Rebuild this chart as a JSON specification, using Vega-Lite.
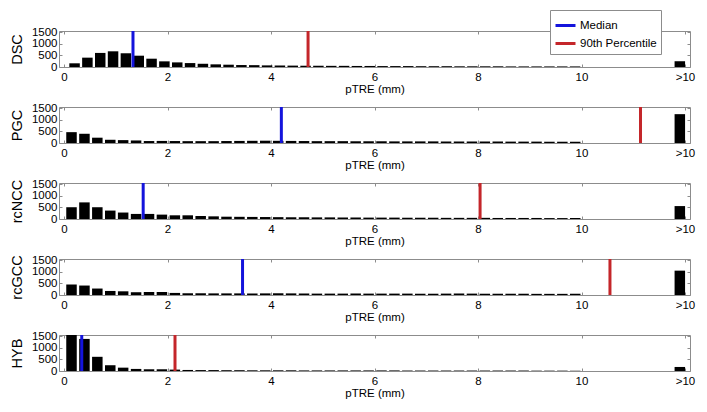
{
"$schema": "https://vega.github.io/schema/vega-lite/v6.json",
"padding": {"left": 8, "top": 9, "right": 5, "bottom": 5},
"bounds": "flush",
"spacing": 40,
"config": {
  "font": "Liberation Sans",
  "view": {"stroke": "#8c8c8c", "strokeWidth": 1},
  "axis": {"labelFontSize": 11.5, "labelColor": "#000", "tickColor": "#8c8c8c", "tickSize": -3, "domain": false, "grid": false, "titleFontWeight": "normal", "titleColor": "#000", "labelFont": "Liberation Sans", "titleFont": "Liberation Sans", "labelFlush": false},
  "axisX": {"titleFontSize": 11.5, "labelPadding": 7, "titlePadding": 1},
  "axisY": {"titleFontSize": 14.5, "labelPadding": 5, "titlePadding": 7, "labelOverlap": false, "format": "d"}
},
"resolve": {"scale": {"color": "independent"}, "legend": {"color": "independent"}},
"datasets": {
  "stats": [
    {"panel": "DSC", "stat": "Median", "value": 1.333},
    {"panel": "DSC", "stat": "90th Percentile", "value": 4.716},
    {"panel": "PGC", "stat": "Median", "value": 4.2},
    {"panel": "PGC", "stat": "90th Percentile", "value": 11.14},
    {"panel": "rcNCC", "stat": "Median", "value": 1.53},
    {"panel": "rcNCC", "stat": "90th Percentile", "value": 8.04},
    {"panel": "rcGCC", "stat": "Median", "value": 3.45},
    {"panel": "rcGCC", "stat": "90th Percentile", "value": 10.55},
    {"panel": "HYB", "stat": "Median", "value": 0.343},
    {"panel": "HYB", "stat": "90th Percentile", "value": 2.145}
  ],
  "bars": [
    {"panel":"DSC","x":0.204,"n":160},{"panel":"DSC","x":0.452,"n":405},{"panel":"DSC","x":0.700,"n":610},{"panel":"DSC","x":0.948,"n":680},{"panel":"DSC","x":1.196,"n":595},{"panel":"DSC","x":1.444,"n":490},{"panel":"DSC","x":1.692,"n":360},{"panel":"DSC","x":1.940,"n":245},{"panel":"DSC","x":2.188,"n":200},{"panel":"DSC","x":2.436,"n":170},
    {"panel":"DSC","x":2.684,"n":140},{"panel":"DSC","x":2.932,"n":115},{"panel":"DSC","x":3.180,"n":100},{"panel":"DSC","x":3.428,"n":85},{"panel":"DSC","x":3.676,"n":80},{"panel":"DSC","x":3.924,"n":70},{"panel":"DSC","x":4.172,"n":65},{"panel":"DSC","x":4.420,"n":60},{"panel":"DSC","x":4.668,"n":55},{"panel":"DSC","x":4.916,"n":55},
    {"panel":"DSC","x":5.164,"n":50},{"panel":"DSC","x":5.412,"n":50},{"panel":"DSC","x":5.660,"n":45},{"panel":"DSC","x":5.908,"n":45},{"panel":"DSC","x":6.156,"n":40},{"panel":"DSC","x":6.404,"n":40},{"panel":"DSC","x":6.652,"n":40},{"panel":"DSC","x":6.900,"n":35},{"panel":"DSC","x":7.148,"n":35},{"panel":"DSC","x":7.396,"n":35},
    {"panel":"DSC","x":7.644,"n":30},{"panel":"DSC","x":7.892,"n":30},{"panel":"DSC","x":8.140,"n":30},{"panel":"DSC","x":8.388,"n":30},{"panel":"DSC","x":8.636,"n":25},{"panel":"DSC","x":8.884,"n":25},{"panel":"DSC","x":9.132,"n":25},{"panel":"DSC","x":9.380,"n":25},{"panel":"DSC","x":9.628,"n":25},{"panel":"DSC","x":9.876,"n":25},
    {"panel":"DSC","x":11.9,"n":250},

    {"panel":"PGC","x":0.145,"n":470},{"panel":"PGC","x":0.395,"n":400},{"panel":"PGC","x":0.644,"n":230},{"panel":"PGC","x":0.894,"n":140},{"panel":"PGC","x":1.143,"n":125},{"panel":"PGC","x":1.393,"n":110},{"panel":"PGC","x":1.643,"n":85},{"panel":"PGC","x":1.892,"n":90},{"panel":"PGC","x":2.142,"n":85},{"panel":"PGC","x":2.391,"n":80},
    {"panel":"PGC","x":2.641,"n":80},{"panel":"PGC","x":2.891,"n":80},{"panel":"PGC","x":3.140,"n":85},{"panel":"PGC","x":3.390,"n":90},{"panel":"PGC","x":3.639,"n":95},{"panel":"PGC","x":3.889,"n":100},{"panel":"PGC","x":4.139,"n":95},{"panel":"PGC","x":4.388,"n":90},{"panel":"PGC","x":4.638,"n":85},{"panel":"PGC","x":4.887,"n":80},
    {"panel":"PGC","x":5.137,"n":80},{"panel":"PGC","x":5.387,"n":80},{"panel":"PGC","x":5.636,"n":75},{"panel":"PGC","x":5.886,"n":75},{"panel":"PGC","x":6.135,"n":75},{"panel":"PGC","x":6.385,"n":70},{"panel":"PGC","x":6.635,"n":70},{"panel":"PGC","x":6.884,"n":70},{"panel":"PGC","x":7.134,"n":70},{"panel":"PGC","x":7.383,"n":65},
    {"panel":"PGC","x":7.633,"n":65},{"panel":"PGC","x":7.883,"n":65},{"panel":"PGC","x":8.132,"n":65},{"panel":"PGC","x":8.382,"n":65},{"panel":"PGC","x":8.631,"n":60},{"panel":"PGC","x":8.881,"n":60},{"panel":"PGC","x":9.131,"n":60},{"panel":"PGC","x":9.380,"n":55},{"panel":"PGC","x":9.630,"n":55},{"panel":"PGC","x":9.879,"n":50},
    {"panel":"PGC","x":11.9,"n":1250},

    {"panel":"rcNCC","x":0.145,"n":510},{"panel":"rcNCC","x":0.395,"n":720},{"panel":"rcNCC","x":0.644,"n":510},{"panel":"rcNCC","x":0.894,"n":365},{"panel":"rcNCC","x":1.143,"n":280},{"panel":"rcNCC","x":1.393,"n":220},{"panel":"rcNCC","x":1.643,"n":220},{"panel":"rcNCC","x":1.892,"n":190},{"panel":"rcNCC","x":2.142,"n":160},{"panel":"rcNCC","x":2.391,"n":160},
    {"panel":"rcNCC","x":2.641,"n":130},{"panel":"rcNCC","x":2.891,"n":115},{"panel":"rcNCC","x":3.140,"n":100},{"panel":"rcNCC","x":3.390,"n":95},{"panel":"rcNCC","x":3.639,"n":90},{"panel":"rcNCC","x":3.889,"n":85},{"panel":"rcNCC","x":4.139,"n":80},{"panel":"rcNCC","x":4.388,"n":75},{"panel":"rcNCC","x":4.638,"n":75},{"panel":"rcNCC","x":4.887,"n":70},
    {"panel":"rcNCC","x":5.137,"n":70},{"panel":"rcNCC","x":5.387,"n":65},{"panel":"rcNCC","x":5.636,"n":65},{"panel":"rcNCC","x":5.886,"n":60},{"panel":"rcNCC","x":6.135,"n":60},{"panel":"rcNCC","x":6.385,"n":60},{"panel":"rcNCC","x":6.635,"n":55},{"panel":"rcNCC","x":6.884,"n":55},{"panel":"rcNCC","x":7.134,"n":55},{"panel":"rcNCC","x":7.383,"n":50},
    {"panel":"rcNCC","x":7.633,"n":50},{"panel":"rcNCC","x":7.883,"n":50},{"panel":"rcNCC","x":8.132,"n":50},{"panel":"rcNCC","x":8.382,"n":45},{"panel":"rcNCC","x":8.631,"n":45},{"panel":"rcNCC","x":8.881,"n":45},{"panel":"rcNCC","x":9.131,"n":45},{"panel":"rcNCC","x":9.380,"n":40},{"panel":"rcNCC","x":9.630,"n":40},{"panel":"rcNCC","x":9.879,"n":40},
    {"panel":"rcNCC","x":11.9,"n":560},

    {"panel":"rcGCC","x":0.145,"n":455},{"panel":"rcGCC","x":0.395,"n":410},{"panel":"rcGCC","x":0.644,"n":280},{"panel":"rcGCC","x":0.894,"n":175},{"panel":"rcGCC","x":1.143,"n":160},{"panel":"rcGCC","x":1.393,"n":120},{"panel":"rcGCC","x":1.643,"n":130},{"panel":"rcGCC","x":1.892,"n":130},{"panel":"rcGCC","x":2.142,"n":90},{"panel":"rcGCC","x":2.391,"n":75},
    {"panel":"rcGCC","x":2.641,"n":75},{"panel":"rcGCC","x":2.891,"n":70},{"panel":"rcGCC","x":3.140,"n":70},{"panel":"rcGCC","x":3.390,"n":70},{"panel":"rcGCC","x":3.639,"n":65},{"panel":"rcGCC","x":3.889,"n":70},{"panel":"rcGCC","x":4.139,"n":75},{"panel":"rcGCC","x":4.388,"n":70},{"panel":"rcGCC","x":4.638,"n":65},{"panel":"rcGCC","x":4.887,"n":60},
    {"panel":"rcGCC","x":5.137,"n":60},{"panel":"rcGCC","x":5.387,"n":60},{"panel":"rcGCC","x":5.636,"n":65},{"panel":"rcGCC","x":5.886,"n":60},{"panel":"rcGCC","x":6.135,"n":60},{"panel":"rcGCC","x":6.385,"n":60},{"panel":"rcGCC","x":6.635,"n":60},{"panel":"rcGCC","x":6.884,"n":55},{"panel":"rcGCC","x":7.134,"n":55},{"panel":"rcGCC","x":7.383,"n":60},
    {"panel":"rcGCC","x":7.633,"n":65},{"panel":"rcGCC","x":7.883,"n":60},{"panel":"rcGCC","x":8.132,"n":55},{"panel":"rcGCC","x":8.382,"n":55},{"panel":"rcGCC","x":8.631,"n":55},{"panel":"rcGCC","x":8.881,"n":55},{"panel":"rcGCC","x":9.131,"n":50},{"panel":"rcGCC","x":9.380,"n":50},{"panel":"rcGCC","x":9.630,"n":50},{"panel":"rcGCC","x":9.879,"n":50},
    {"panel":"rcGCC","x":11.9,"n":1055},

    {"panel":"HYB","x":0.145,"n":1600},{"panel":"HYB","x":0.395,"n":1390},{"panel":"HYB","x":0.644,"n":615},{"panel":"HYB","x":0.894,"n":250},{"panel":"HYB","x":1.143,"n":145},{"panel":"HYB","x":1.393,"n":90},{"panel":"HYB","x":1.643,"n":75},{"panel":"HYB","x":1.892,"n":75},{"panel":"HYB","x":2.142,"n":60},{"panel":"HYB","x":2.391,"n":45},
    {"panel":"HYB","x":2.641,"n":40},{"panel":"HYB","x":2.891,"n":40},{"panel":"HYB","x":3.140,"n":35},{"panel":"HYB","x":3.390,"n":35},{"panel":"HYB","x":3.639,"n":30},{"panel":"HYB","x":3.889,"n":30},{"panel":"HYB","x":4.139,"n":30},{"panel":"HYB","x":4.388,"n":30},{"panel":"HYB","x":4.638,"n":25},{"panel":"HYB","x":4.887,"n":25},
    {"panel":"HYB","x":5.137,"n":25},{"panel":"HYB","x":5.387,"n":25},{"panel":"HYB","x":5.636,"n":25},{"panel":"HYB","x":5.886,"n":25},{"panel":"HYB","x":6.135,"n":25},{"panel":"HYB","x":6.385,"n":25},{"panel":"HYB","x":6.635,"n":20},{"panel":"HYB","x":6.884,"n":20},{"panel":"HYB","x":7.134,"n":20},{"panel":"HYB","x":7.383,"n":20},
    {"panel":"HYB","x":7.633,"n":20},{"panel":"HYB","x":7.883,"n":20},{"panel":"HYB","x":8.132,"n":20},{"panel":"HYB","x":8.382,"n":20},{"panel":"HYB","x":8.631,"n":20},{"panel":"HYB","x":8.881,"n":20},{"panel":"HYB","x":9.131,"n":15},{"panel":"HYB","x":9.380,"n":15},{"panel":"HYB","x":9.630,"n":15},{"panel":"HYB","x":9.879,"n":15},
    {"panel":"HYB","x":11.9,"n":175}
  ]
},
"vconcat": [
  {
    "width": 631, "height": 36,
    "layer": [
      {"data": {"name": "bars"}, "transform": [{"filter": "datum.panel == 'DSC'"}],
       "mark": {"type": "bar", "width": 10.5, "color": "#000", "clip": true},
       "encoding": {
         "x": {"field": "x", "type": "quantitative", "scale": {"domain": [0, 12], "nice": false}, "axis": {"orient": "bottom", "values": [0,2,4,6,8,10,12], "labelExpr": "datum.value == 12 ? '>10' : datum.label", "title": "pTRE (mm)"}},
         "y": {"field": "n", "type": "quantitative", "scale": {"domain": [0, 1560], "nice": false}, "axis": {"orient": "left", "values": [0,500,1000,1500], "title": "DSC"}}
       }},
      {"data": {"name": "stats"}, "transform": [{"filter": "datum.panel == 'DSC'"}],
       "mark": {"type": "rule", "strokeWidth": 3},
       "encoding": {
         "x": {"field": "value", "type": "quantitative", "axis": {"orient": "top", "values": [0,2,4,6,8,10,12], "labels": false, "title": null}},
         "y": {"datum": 0, "type": "quantitative", "axis": {"orient": "right", "values": [0,500,1000,1500], "labels": false, "title": null}},
         "y2": {"datum": 1560},
         "color": {"field": "stat", "type": "nominal", "scale": {"domain": ["Median", "90th Percentile"], "range": ["#1414dc", "#c4262a"]},
                   "legend": {"title": null, "orient": "none", "legendX": 491, "legendY": -21, "strokeColor": "#8c8c8c", "fillColor": "#fff", "padding": 4, "symbolType": "stroke", "symbolStrokeWidth": 3, "symbolSize": 400, "labelFontSize": 11.5, "labelColor": "#000", "rowPadding": 0, "labelOffset": 3}}
       }}
    ],
    "resolve": {"axis": {"x": "independent", "y": "independent"}}
  },
  {
    "width": 631, "height": 36,
    "layer": [
      {"data": {"name": "bars"}, "transform": [{"filter": "datum.panel == 'PGC'"}],
       "mark": {"type": "bar", "width": 10.5, "color": "#000", "clip": true},
       "encoding": {
         "x": {"field": "x", "type": "quantitative", "scale": {"domain": [0, 12], "nice": false}, "axis": {"orient": "bottom", "values": [0,2,4,6,8,10,12], "labelExpr": "datum.value == 12 ? '>10' : datum.label", "title": "pTRE (mm)"}},
         "y": {"field": "n", "type": "quantitative", "scale": {"domain": [0, 1560], "nice": false}, "axis": {"orient": "left", "values": [0,500,1000,1500], "title": "PGC"}}
       }},
      {"data": {"name": "stats"}, "transform": [{"filter": "datum.panel == 'PGC'"}],
       "mark": {"type": "rule", "strokeWidth": 3},
       "encoding": {
         "x": {"field": "value", "type": "quantitative", "axis": {"orient": "top", "values": [0,2,4,6,8,10,12], "labels": false, "title": null}},
         "y": {"datum": 0, "type": "quantitative", "axis": {"orient": "right", "values": [0,500,1000,1500], "labels": false, "title": null}},
         "y2": {"datum": 1560},
         "color": {"field": "stat", "type": "nominal", "scale": {"domain": ["Median", "90th Percentile"], "range": ["#1414dc", "#c4262a"]}, "legend": null}
       }}
    ],
    "resolve": {"axis": {"x": "independent", "y": "independent"}}
  },
  {
    "width": 631, "height": 36,
    "layer": [
      {"data": {"name": "bars"}, "transform": [{"filter": "datum.panel == 'rcNCC'"}],
       "mark": {"type": "bar", "width": 10.5, "color": "#000", "clip": true},
       "encoding": {
         "x": {"field": "x", "type": "quantitative", "scale": {"domain": [0, 12], "nice": false}, "axis": {"orient": "bottom", "values": [0,2,4,6,8,10,12], "labelExpr": "datum.value == 12 ? '>10' : datum.label", "title": "pTRE (mm)"}},
         "y": {"field": "n", "type": "quantitative", "scale": {"domain": [0, 1560], "nice": false}, "axis": {"orient": "left", "values": [0,500,1000,1500], "title": "rcNCC"}}
       }},
      {"data": {"name": "stats"}, "transform": [{"filter": "datum.panel == 'rcNCC'"}],
       "mark": {"type": "rule", "strokeWidth": 3},
       "encoding": {
         "x": {"field": "value", "type": "quantitative", "axis": {"orient": "top", "values": [0,2,4,6,8,10,12], "labels": false, "title": null}},
         "y": {"datum": 0, "type": "quantitative", "axis": {"orient": "right", "values": [0,500,1000,1500], "labels": false, "title": null}},
         "y2": {"datum": 1560},
         "color": {"field": "stat", "type": "nominal", "scale": {"domain": ["Median", "90th Percentile"], "range": ["#1414dc", "#c4262a"]}, "legend": null}
       }}
    ],
    "resolve": {"axis": {"x": "independent", "y": "independent"}}
  },
  {
    "width": 631, "height": 36,
    "layer": [
      {"data": {"name": "bars"}, "transform": [{"filter": "datum.panel == 'rcGCC'"}],
       "mark": {"type": "bar", "width": 10.5, "color": "#000", "clip": true},
       "encoding": {
         "x": {"field": "x", "type": "quantitative", "scale": {"domain": [0, 12], "nice": false}, "axis": {"orient": "bottom", "values": [0,2,4,6,8,10,12], "labelExpr": "datum.value == 12 ? '>10' : datum.label", "title": "pTRE (mm)"}},
         "y": {"field": "n", "type": "quantitative", "scale": {"domain": [0, 1560], "nice": false}, "axis": {"orient": "left", "values": [0,500,1000,1500], "title": "rcGCC"}}
       }},
      {"data": {"name": "stats"}, "transform": [{"filter": "datum.panel == 'rcGCC'"}],
       "mark": {"type": "rule", "strokeWidth": 3},
       "encoding": {
         "x": {"field": "value", "type": "quantitative", "axis": {"orient": "top", "values": [0,2,4,6,8,10,12], "labels": false, "title": null}},
         "y": {"datum": 0, "type": "quantitative", "axis": {"orient": "right", "values": [0,500,1000,1500], "labels": false, "title": null}},
         "y2": {"datum": 1560},
         "color": {"field": "stat", "type": "nominal", "scale": {"domain": ["Median", "90th Percentile"], "range": ["#1414dc", "#c4262a"]}, "legend": null}
       }}
    ],
    "resolve": {"axis": {"x": "independent", "y": "independent"}}
  },
  {
    "width": 631, "height": 36,
    "layer": [
      {"data": {"name": "bars"}, "transform": [{"filter": "datum.panel == 'HYB'"}],
       "mark": {"type": "bar", "width": 10.5, "color": "#000", "clip": true},
       "encoding": {
         "x": {"field": "x", "type": "quantitative", "scale": {"domain": [0, 12], "nice": false}, "axis": {"orient": "bottom", "values": [0,2,4,6,8,10,12], "labelExpr": "datum.value == 12 ? '>10' : datum.label", "title": "pTRE (mm)"}},
         "y": {"field": "n", "type": "quantitative", "scale": {"domain": [0, 1560], "nice": false}, "axis": {"orient": "left", "values": [0,500,1000,1500], "title": "HYB"}}
       }},
      {"data": {"name": "stats"}, "transform": [{"filter": "datum.panel == 'HYB'"}],
       "mark": {"type": "rule", "strokeWidth": 3},
       "encoding": {
         "x": {"field": "value", "type": "quantitative", "axis": {"orient": "top", "values": [0,2,4,6,8,10,12], "labels": false, "title": null}},
         "y": {"datum": 0, "type": "quantitative", "axis": {"orient": "right", "values": [0,500,1000,1500], "labels": false, "title": null}},
         "y2": {"datum": 1560},
         "color": {"field": "stat", "type": "nominal", "scale": {"domain": ["Median", "90th Percentile"], "range": ["#1414dc", "#c4262a"]}, "legend": null}
       }}
    ],
    "resolve": {"axis": {"x": "independent", "y": "independent"}}
  }
]
}
